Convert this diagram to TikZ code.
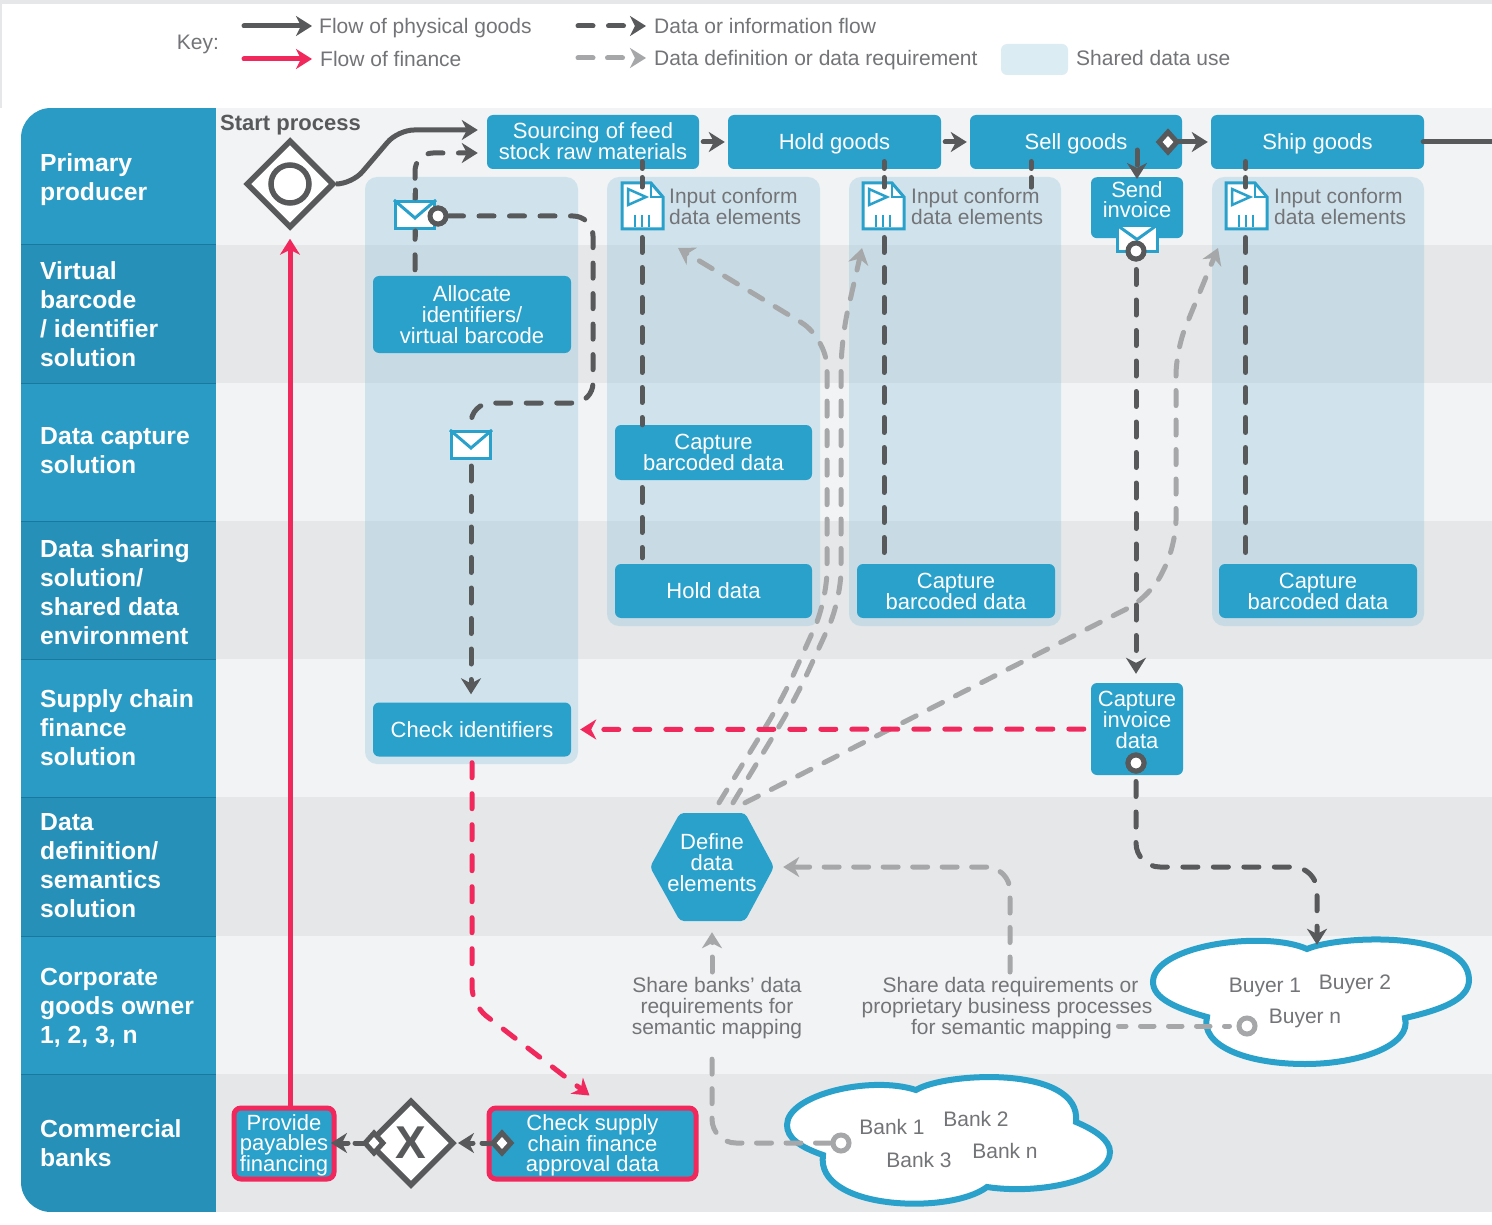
\documentclass[tikz,border=0pt]{standalone}
\usepackage{fontspec}
\setmainfont{Liberation Sans}
\usetikzlibrary{arrows.meta,calc,shapes.geometric}
\definecolor{bandA}{HTML}{F1F3F5}
\definecolor{bandB}{HTML}{E5E7E9}
\definecolor{headA}{HTML}{2A9BC4}
\definecolor{headB}{HTML}{2690B8}
\definecolor{headline}{HTML}{1A789E}
\definecolor{boxblue}{HTML}{2AA1CB}
\definecolor{share}{HTML}{8DC5DA}
\definecolor{swatch}{HTML}{DCECF3}
\definecolor{dark}{HTML}{58595B}
\definecolor{midgray}{HTML}{A6A7A9}
\definecolor{finred}{HTML}{F0285C}
\definecolor{txt}{HTML}{737477}
\tikzset{
  x=1pt,y=-1pt,
  lanelabel/.style={anchor=west,align=left,text=white,inner sep=0pt,font=\fontsize{24.7}{29}\selectfont\bfseries},
  bx/.style={fill=boxblue,rounded corners=6pt,text=white,align=center,inner sep=0pt,font=\fontsize{22}{21}\selectfont},
  bxt/.style={text=white,align=center,inner sep=0pt,font=\fontsize{22}{21}\selectfont},
  redbx/.style={bx,draw=finred,line width=5pt,rounded corners=7pt},
  shared/.style={fill=share,fill opacity=.33,rounded corners=12pt},
  graytxt/.style={text=txt,inner sep=0pt,font=\fontsize{21}{21}\selectfont,align=left},
  grayc/.style={text=txt,inner sep=0pt,font=\fontsize{21}{21}\selectfont,align=center},
  cloudtxt/.style={text=txt,inner sep=0pt,font=\fontsize{21}{21}\selectfont},
  flow/.style={line width=5pt,line cap=round,rounded corners=18pt},
  flowdark/.style={flow,draw=dark,dash pattern=on 15pt off 15.5pt},
  vdash/.style={flow,draw=dark,dash pattern=on 15pt off 15pt},
  flowgray/.style={flow,draw=midgray,dash pattern=on 15pt off 14.5pt},
  flowred/.style={flow,draw=finred,dash pattern=on 15pt off 16pt},
  solidd/.style={flow,draw=dark},
  solidr/.style={flow,draw=finred},
  chev/.tip={Stealth[length=16pt,width=20pt,inset=5pt]},
  ringd/.style={circle,draw=dark,fill=white,line width=5pt,minimum size=16pt,inner sep=0pt},
  ringg/.style={circle,draw=midgray,fill=white,line width=5pt,minimum size=16pt,inner sep=0pt},
  envl/.style={draw=boxblue,fill=white,line width=3pt,minimum width=39pt,minimum height=27pt,inner sep=0pt},
  flap/.style={draw=boxblue,line width=3pt},
  cloudshape/.style={draw=boxblue,fill=white,line width=6pt},
  doc/.style={inner sep=0pt,minimum width=41pt,minimum height=47pt},
  smalld/.style={diamond,draw=dark,fill=white,line width=5pt,minimum width=20pt,minimum height=22pt,inner sep=0pt},
  bigd/.style={diamond,draw=dark,fill=white,line width=5.5pt,minimum width=86pt,minimum height=86pt,inner sep=0pt},
}
\newcommand{\docicon}[3]{%
  \node[doc] (#3) at (#1+20.5,#2+23.5) {};
  \begin{scope}[shift={(#1,#2)}]
    \draw[boxblue,fill=white,line width=3pt,line join=miter] (0,0) -- (29,0) -- (41,14) -- (41,46) -- (0,46) -- cycle;
    \draw[boxblue,line width=2.5pt] (29,0) -- (29,14) -- (41,14);
    \draw[boxblue,line width=2.5pt] (6,6) -- (6,22) -- (24,14) -- cycle;
    \draw[boxblue,line width=2pt] (13,32) -- (13,44) (20,32) -- (20,44) (27,32) -- (27,44);
  \end{scope}}
\begin{document}
\begin{tikzpicture}
\useasboundingbox (0,0) rectangle (1492,1225);
\fill[white] (0,0) rectangle (1492,1225);
\fill[bandB] (0,0) rectangle (1492,4);
\fill[bandB] (0,0) rectangle (2,108);
% lanes
\fill[bandA] (216,108) rectangle (1492,245);
\fill[bandB] (216,245) rectangle (1492,383);
\fill[bandA] (216,383) rectangle (1492,521);
\fill[bandB] (216,521) rectangle (1492,659);
\fill[bandA] (216,659) rectangle (1492,797);
\fill[bandB] (216,797) rectangle (1492,936);
\fill[bandA] (216,936) rectangle (1492,1074);
\fill[bandB] (216,1074) rectangle (1492,1212);
% lane headers
\begin{scope}
  \clip[rounded corners=30pt] (21,108) -- (260,108) -- (260,1212) -- (21,1212) -- cycle;
  \fill[headA] (21,108) rectangle (216,245);
  \fill[headB] (21,245) rectangle (216,383);
  \fill[headA] (21,383) rectangle (216,521);
  \fill[headB] (21,521) rectangle (216,659);
  \fill[headA] (21,659) rectangle (216,797);
  \fill[headB] (21,797) rectangle (216,936);
  \fill[headA] (21,936) rectangle (216,1074);
  \fill[headB] (21,1074) rectangle (216,1212);
  \foreach \yy in {245,383,521,659,797,936,1074} \draw[headline,line width=1pt] (21,\yy) -- (216,\yy);
\end{scope}
\node[lanelabel] (l1) at (40,179.5) {Primary\\producer};
\node[lanelabel] (l2) at (40,314.5) {Virtual\\barcode\\/ identifier\\solution};
\node[lanelabel] (l3) at (40,450.5) {Data capture\\solution};
\node[lanelabel] (l4) at (40,592) {Data sharing\\solution/\\shared data\\environment};
\node[lanelabel] (l5) at (40,727.5) {Supply chain\\finance\\solution};
\node[lanelabel] (l6) at (40,865.5) {Data\\definition/\\semantics\\solution};
\node[lanelabel] (l7) at (40,1007.5) {Corporate\\goods owner\\1, 2, 3, n};
\node[lanelabel] (l8) at (40,1143.5) {Commercial\\banks};
% key
\node[text=txt,inner sep=0pt,font=\fontsize{21}{21}\selectfont,anchor=base] (key) at (198,50) {Key:};
\node[graytxt,anchor=base west] (kt1) at (319,34) {Flow of physical goods};
\node[graytxt,anchor=base west] (kt2) at (320,67) {Flow of finance};
\node[graytxt,anchor=base west] (kt3) at (654,34) {Data or information flow};
\node[graytxt,anchor=base west] (kt4) at (654,66) {Data definition or data requirement};
\node[graytxt,anchor=base west] (kt5) at (1076,66) {Shared data use};
\node[fill=swatch,rounded corners=6pt,minimum width=67pt,minimum height=31pt,inner sep=0pt] (ksw) at (1034.5,59.5) {};
\coordinate (k1a) at (244,26); \coordinate (k2a) at (244,59);
\coordinate (k3a) at (578,26); \coordinate (k4a) at (578,58);
\draw[solidd,-{chev}] (k1a) -- ([xshift=-7pt]kt1.west |- k1a);
\draw[solidr,-{chev}] (k2a) -- ([xshift=-8pt]kt2.west |- k2a);
\draw[flowdark,-{chev}] (k3a) -- ([xshift=-8pt]kt3.west |- k3a);
\draw[flowgray,-{chev}] (k4a) -- ([xshift=-8pt]kt4.west |- k4a);
% shared areas
\fill[shared] (365,177) rectangle (578,764);
\fill[shared] (607,177) rectangle (820,626);
\fill[shared] (849,177) rectangle (1061,626);
\fill[shared] (1212,177) rectangle (1424,626);
% boxes
\node[bx,minimum width=212pt,minimum height=54pt] (src) at (593,142) {};
\node[bxt] (srcT) at (593,141) {Sourcing of feed\\stock raw materials};
\node[bx,minimum width=213pt,minimum height=54pt] (hold) at (834.5,142) {};
\node[bxt] (holdT) at (834.5,144) {Hold goods};
\node[bx,minimum width=212pt,minimum height=54pt] (sell) at (1076,142) {};
\node[bxt] (sellT) at (1076,144) {Sell goods};
\node[bx,minimum width=213pt,minimum height=54pt] (ship) at (1317.5,142) {};
\node[bxt] (shipT) at (1317.5,144) {Ship goods};
\node[bx,minimum width=92pt,minimum height=61pt,anchor=north] (send) at (1137,177) {};
\node[bxt,font=\fontsize{22}{20}\selectfont] (sendT) at (1137,200) {Send\\invoice};
\node[bx,minimum width=198pt,minimum height=77pt] (alloc) at (472,314.5) {Allocate\\identifiers/\\virtual barcode};
\node[bx,minimum width=197pt,minimum height=55pt] (capB) at (713.5,452.5) {Capture\\barcoded data};
\node[bx,minimum width=197pt,minimum height=54pt] (hdata) at (713.5,591) {Hold data};
\node[bx,minimum width=198pt,minimum height=54pt] (capC) at (956,591) {Capture\\barcoded data};
\node[bx,minimum width=198pt,minimum height=54pt] (capD) at (1318,591) {Capture\\barcoded data};
\node[bx,minimum width=198pt,minimum height=54pt] (chk) at (472,729.5) {Check identifiers};
\node[bx,minimum width=92pt,minimum height=92pt] (capI) at (1137,729) {};
\node[bxt] (capIT) at (1137,720) {Capture\\invoice\\data};
\fill[boxblue,rounded corners=4pt] (650,867) -- (680,813) -- (745,813) -- (774,867) -- (745,921) -- (680,921) -- cycle;
\node[inner sep=0pt,minimum width=122pt,minimum height=108pt] (def) at (712,867) {};
\node[bxt] (defT) at (712,862.5) {Define\\data\\elements};
\node[redbx,minimum width=100pt,minimum height=71pt] (prov) at (284,1143.5) {};
\node[bxt,font=\fontsize{22}{20}\selectfont] (provT) at (284,1145.5) {Provide\\payables\\financing};
\node[redbx,minimum width=207pt,minimum height=71pt] (csc) at (592.5,1143.5) {};
\node[bxt,font=\fontsize{22}{20}\selectfont] (cscT) at (592.5,1145.5) {Check supply\\chain finance\\approval data};
% start and gateway
\node[bigd,minimum width=88pt,minimum height=88pt] (start) at (290,184) {};
\node[circle,draw=dark,line width=5.5pt,minimum size=38pt,inner sep=0pt] (startc) at (start) {};
\node[text=dark,inner sep=0pt,font=\fontsize{22}{21}\selectfont\bfseries,anchor=base west] (st) at (220,131) {Start process};
\node[bigd] (gw) at (411,1143) {};
\node[text=dark,inner sep=0pt,font=\fontsize{46}{46}\selectfont\bfseries] (gwx) at (411,1143) {X};
% clouds
\draw[cloudshape] (1307,949) .. controls (1340,935) and (1469,930) .. (1469,980)
  .. controls (1469,1000) and (1440,1010) .. (1405,1018)
  .. controls (1412,1045) and (1360,1064) .. (1305,1064)
  .. controls (1245,1064) and (1200,1045) .. (1207,1017)
  .. controls (1175,1008) and (1153,998) .. (1153,982)
  .. controls (1153,945) and (1265,930) .. (1307,949) -- cycle;
\node[minimum width=316pt,minimum height=126pt,inner sep=0pt] (buyers) at (1311,1001) {};
\draw[cloudshape] (916,1090) .. controls (945,1072) and (1082,1065) .. (1076,1122)
  .. controls (1095,1130) and (1110,1140) .. (1110,1152)
  .. controls (1110,1180) and (1040,1195) .. (987,1187)
  .. controls (950,1215) and (815,1210) .. (823,1155)
  .. controls (800,1147) and (787,1138) .. (787,1125)
  .. controls (787,1095) and (870,1075) .. (916,1090) -- cycle;
\node[minimum width=323pt,minimum height=125pt,inner sep=0pt] (banks) at (948.5,1140.5) {};
\node[cloudtxt] (b1) at (1265,987) {Buyer 1};
\node[cloudtxt] (b2) at (1355,984) {Buyer 2};
\node[cloudtxt] (b3) at (1305,1018) {Buyer n};
\node[cloudtxt] (k1) at (892,1127) {Bank 1};
\node[cloudtxt] (k2) at (976,1119) {Bank 2};
\node[cloudtxt] (k3) at (919,1160) {Bank 3};
\node[cloudtxt] (k4) at (1005,1151) {Bank n};
% share texts
\node[grayc] (sh1) at (717,1008) {Share banks’ data\\requirements for\\semantic mapping};
\node[grayc] (sh2) at (1007,1008) {\hspace*{7pt}Share data requirements or\\proprietary business processes\\\hspace*{9pt}for semantic mapping};
% icons positions
\node[ringd] (ring1) at (438,216) {};
\node[ringd] (ring2) at (1136,251) {};
\node[ringd] (ring3) at (1136,763) {};
\node[ringg] (ringB) at (1247,1026) {};
\node[ringg] (ringK) at (841,1143) {};
\node[minimum size=2pt,inner sep=0pt] (dS) at (1168,142) {};
\coordinate (g1) at (678,248);
\coordinate (g2) at (862,248);
\coordinate (g3) at (1218,248);
\coordinate (shtail) at (1118.5,1026);
% gray connectors
\draw[flowgray,rounded corners=30pt,-{chev}] ([xshift=7pt,yshift=10pt]def.north) -- (782,700) -- (827,600) -- (827,338) -- (g1);
\draw[flowgray,rounded corners=30pt,-{chev}] ([xshift=21pt,yshift=10pt]def.north) -- (795,700) -- (841,600) -- (841,340) -- (g2);
\draw[flowgray,rounded corners=25pt,-{chev}] ([xshift=33pt,yshift=10pt]def.north) -- (1150,597) -- (1176,545) -- (1176,350) -- (g3);
\draw[flowgray,-{chev}] (712,972) -- ([yshift=-11pt]def.south);
\draw[flowgray,rounded corners=24pt] (ringK.west) -- (712,1143) -- (712,1046);
\draw[flowgray,rounded corners=24pt,-{chev}] (1010,972) -- (1010,867) -- ([xshift=10pt]def.east);
\draw[flowgray,dash pattern=on 13.5pt off 14.5pt,dash phase=8.5pt] ([xshift=-17.5pt]ringB.center) -- (shtail);
% red connectors
\draw[flowred,-{chev}] ([xshift=-7pt]capI.west) -- ([xshift=9pt]chk.east);
\draw[flowred,-{chev}] ([yshift=-6pt]chk.south) -- (472,1005) -- ([xshift=-3pt,yshift=10pt]csc.north);
\draw[solidr,-{chev}] ([xshift=6pt]prov.north) -- ([xshift=6pt,yshift=-8pt]prov.north |- start.south);
% dark connectors
\draw[solidd,rounded corners=16pt,-{chev}] (start.east) -- (352,184) -- (398,130) -- ([yshift=12pt,xshift=-9pt]src.west);
\draw[flowdark,rounded corners=18pt,-{chev}] ([xshift=-57pt,yshift=6pt]alloc.north) -- (415,153) -- ([yshift=-11pt,xshift=-9pt]src.west);
\draw[flowdark,rounded corners=20pt] (ring1.east) -- (593,216) -- (593,403) -- (471,403) -- (471,431);
\node[envl] (env2) at (471,445) {};
\draw[flap] (env2.north west) -- ([yshift=-3pt]env2.center) -- (env2.north east);
\draw[flowdark,-{chev}] ([yshift=-6pt]env2.south) -- ([xshift=-1pt,yshift=8pt]chk.north);
\draw[solidd,-{chev}] ([xshift=4pt]src.east) -- ([xshift=-3pt]hold.west);
\draw[solidd,-{chev}] ([xshift=4pt]hold.east) -- ([xshift=-3pt]sell.west);
\draw[solidd,-{chev}] (dS) -- ([xshift=-3pt]ship.west);
\draw[solidd] ([xshift=-1pt]ship.east) -- (1492,142);
% verticals from the goods boxes through the documents
\draw[vdash] (642,237.5) -- (capB.north -| 642,0);
\draw[vdash] (642,487.5) -- ([yshift=6pt]hdata.north -| 642,0);
\draw[vdash] (884,237.5) -- ([yshift=6pt]capC.north -| 884,0);
\draw[vdash] (1245.5,237.5) -- ([yshift=6pt]capD.north -| 1245.5,0);
\draw[dark,line width=5pt,line cap=round] (1031,161.5) -- (1031,168.5) (1031,177.5) -- (1031,187);
\draw[flowdark,-{chev}] (1137,150) -- ([yshift=-2pt]send.north);
\node[envl,minimum width=40pt,minimum height=26pt] (env3) at (1137,238.5) {};
\draw[flap] (env3.north west) -- ([yshift=-1pt]env3.center) -- (env3.north east);
\draw[flowdark,-{chev}] ([yshift=-8pt]ring2.south) -- ([xshift=-1pt,yshift=9pt]capI.north);
\draw[flowdark,rounded corners=24pt,-{chev}] ([yshift=-8pt]ring3.south) -- (1136,867) -- (1317,867) -- ([xshift=6pt,yshift=-7pt]buyers.north);
\draw[solidd,dash pattern=on 9pt off 9pt,-{chev}] (491,1143) -- (458,1143);
\draw[solidd,dash pattern=on 9pt off 7pt,-{chev}] (364,1143) -- (331,1143);
% icons on top
\node[envl] (env1) at (415,215) {};
\draw[flap] (env1.north west) -- ([yshift=-3pt]env1.center) -- (env1.north east);
\draw[dark,line width=5pt,line cap=round] (415,190) -- (415,198) (415,231) -- (415,236);
\node[ringd] at (ring1) {};
\docicon{622}{183}{docA}
\docicon{863}{183}{docB}
\docicon{1226}{183}{docC}
\foreach \xx in {642,884,1245.5} \draw[dark,line width=5pt,line cap=round] (\xx,161.5) -- (\xx,168.5) (\xx,177.5) -- (\xx,187);
\node[graytxt,anchor=west] (ta) at (669,206.5) {Input conform\\data elements};
\node[graytxt,anchor=west] (tb) at (911,206.5) {Input conform\\data elements};
\node[graytxt,anchor=west] (tc) at (1274,206.5) {Input conform\\data elements};
\draw[dark,line width=5pt,line cap=round] (1031,180) -- (1031,187);
\node[ringd] at (ring2) {};
\node[ringd] at (ring3) {};
\node[smalld] (ds1) at (dS) {};
\node[smalld] (ds2) at (502,1143) {};
\node[smalld] (ds3) at (374,1143) {};
\end{tikzpicture}
\end{document}
